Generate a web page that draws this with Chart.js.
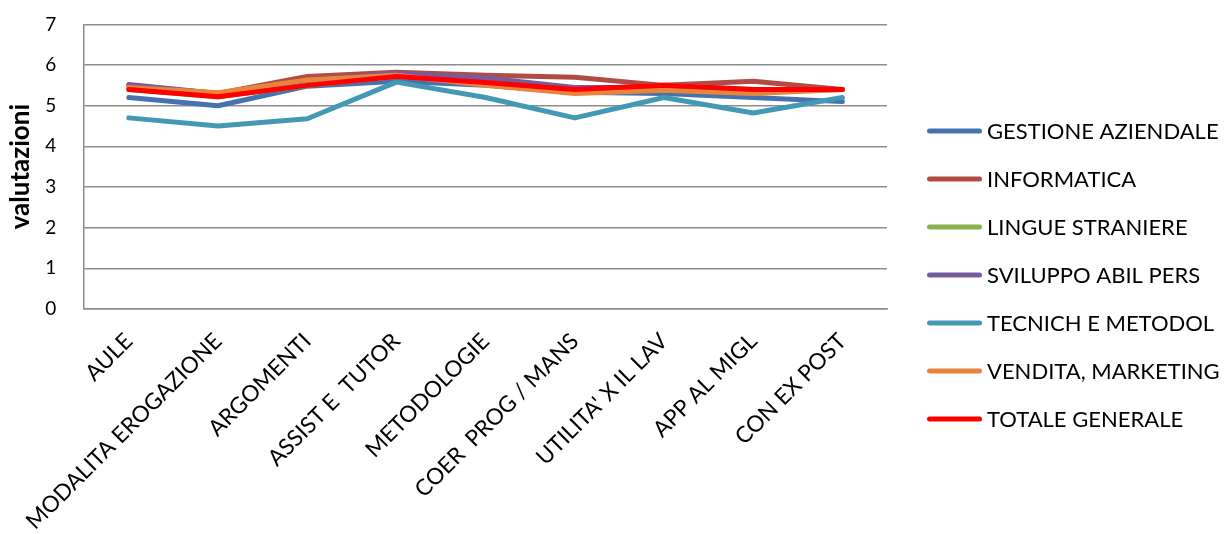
<!DOCTYPE html>
<html>
<head>
<meta charset="utf-8">
<script src="https://cdn.jsdelivr.net/npm/chart.js@4/dist/chart.umd.min.js"></script>
<style>
  html, body { margin: 0; padding: 0; background: #fff; }
  #wrap { width: 1231px; height: 534px; }
</style>
</head>
<body>
<div id="wrap"><canvas id="c" width="1231" height="534"></canvas></div>
<script>
// Categories evaluated in the survey
const categories = [
  "AULE", "MODALITA EROGAZIONE", "ARGOMENTI", "ASSIST E  TUTOR", "METODOLOGIE",
  "COER  PROG / MANS", "UTILITA' X IL LAV", "APP AL MIGL", "CON EX POST"
];

// Average ratings per course area
const gestioneAziendale = [5.2, 5.0, 5.48, 5.6, 5.5, 5.33, 5.3, 5.2, 5.1];
const informatica       = [5.5, 5.3, 5.72, 5.82, 5.75, 5.7, 5.5, 5.6, 5.4];
const lingueStraniere   = [5.4, 5.22, 5.5, 5.72, 5.57, 5.4, 5.5, 5.4, 5.4];
const sviluppoAbilPers  = [5.52, 5.3, 5.62, 5.8, 5.68, 5.45, 5.45, 5.35, 5.4];
const tecnicheMetodol   = [4.7, 4.5, 4.68, 5.58, 5.2, 4.7, 5.2, 4.82, 5.2];
const venditaMarketing  = [5.45, 5.32, 5.63, 5.75, 5.5, 5.3, 5.38, 5.3, 5.4];
const totaleGenerale    = [5.4, 5.22, 5.5, 5.72, 5.57, 5.4, 5.5, 5.4, 5.4];

const yTicks = [0, 1, 2, 3, 4, 5, 6, 7];

const seriesNames = [
  "GESTIONE AZIENDALE", "INFORMATICA", "LINGUE STRANIERE", "SVILUPPO ABIL PERS",
  "TECNICH E METODOL", "VENDITA, MARKETING", "TOTALE GENERALE"
];
const seriesData = [
  gestioneAziendale, informatica, lingueStraniere, sviluppoAbilPers,
  tecnicheMetodol, venditaMarketing, totaleGenerale
];
const seriesColors = ["#4673AF", "#B24A46", "#8DB04D", "#775C9C", "#4399B4", "#E8843C", "#FF0000"];

const FONT = "Lato";
Chart.defaults.font.family = FONT + ", 'Open Sans', sans-serif";
Chart.defaults.color = "#000";

// Vertical legend on the right: a short thick line followed by the series name
const sideLegend = {
  id: "sideLegend",
  afterDraw(chart) {
    const ctx = chart.ctx;
    const area = chart.chartArea;
    const sets = chart.data.datasets;
    const spacing = 48;
    const centerY = 275;
    const top = centerY - (sets.length - 1) / 2 * spacing;
    const lineX0 = area.right + 42.5;
    const lineX1 = lineX0 + 50;
    const textX = area.right + 100;
    ctx.save();
    ctx.font = "22px " + FONT;
    ctx.textBaseline = "alphabetic";
    ctx.textAlign = "left";
    sets.forEach((ds, i) => {
      const y = top + i * spacing;
      ctx.strokeStyle = ds.borderColor;
      ctx.lineWidth = 5;
      ctx.lineCap = "round";
      ctx.beginPath();
      ctx.moveTo(lineX0, y);
      ctx.lineTo(lineX1, y);
      ctx.stroke();
      ctx.fillStyle = "#000";
      ctx.fillText(ds.label, textX, y + 8);
    });
    ctx.restore();
  }
};

function build() {
  const datasets = seriesNames.map((name, i) => ({
    label: name,
    data: seriesData[i],
    borderColor: seriesColors[i],
    backgroundColor: seriesColors[i],
    borderWidth: 5,
    borderCapStyle: "round",
    borderJoinStyle: "round",
    pointRadius: 0,
    pointHoverRadius: 0,
    tension: 0,
    fill: false,
    // later series are painted over earlier ones
    order: seriesNames.length - 1 - i
  }));

  const gridColor = "#8c8c8c";

  new Chart(document.getElementById("c"), {
    type: "line",
    data: { labels: categories, datasets },
    plugins: [sideLegend],
    options: {
      responsive: false,
      animation: false,
      layout: { padding: { left: 4, right: 344, top: 0, bottom: -12 } },
      plugins: {
        tooltip: { enabled: false },
        legend: { display: false }
      },
      scales: {
        x: {
          offset: true,
          grid: { display: false },
          border: { display: true, color: gridColor, width: 1.5 },
          ticks: {
            minRotation: 45,
            maxRotation: 45,
            autoSkip: false,
            padding: 11,
            font: { size: 22.5 },
            color: "#000"
          }
        },
        y: {
          min: 0,
          max: 7,
          afterBuildTicks: (axis) => { axis.ticks = yTicks.map(v => ({ value: v })); },
          // invisible tick marks keep the labels clear of the axis line
          grid: { color: gridColor, lineWidth: 1.5, drawTicks: true, tickLength: 15, tickColor: "rgba(0,0,0,0)" },
          border: { display: true, color: gridColor, width: 1.5 },
          ticks: { padding: 13, font: { size: 19 }, color: "#000" },
          title: {
            display: true,
            text: "valutazioni",
            font: { size: 26, weight: "bold" },
            color: "#000",
            padding: { top: 1, bottom: -4 }
          }
        }
      }
    }
  });
}

Promise.all([
  document.fonts.load("22px " + FONT),
  document.fonts.load("bold 26px " + FONT)
]).then(build, build);
</script>
</body>
</html>
